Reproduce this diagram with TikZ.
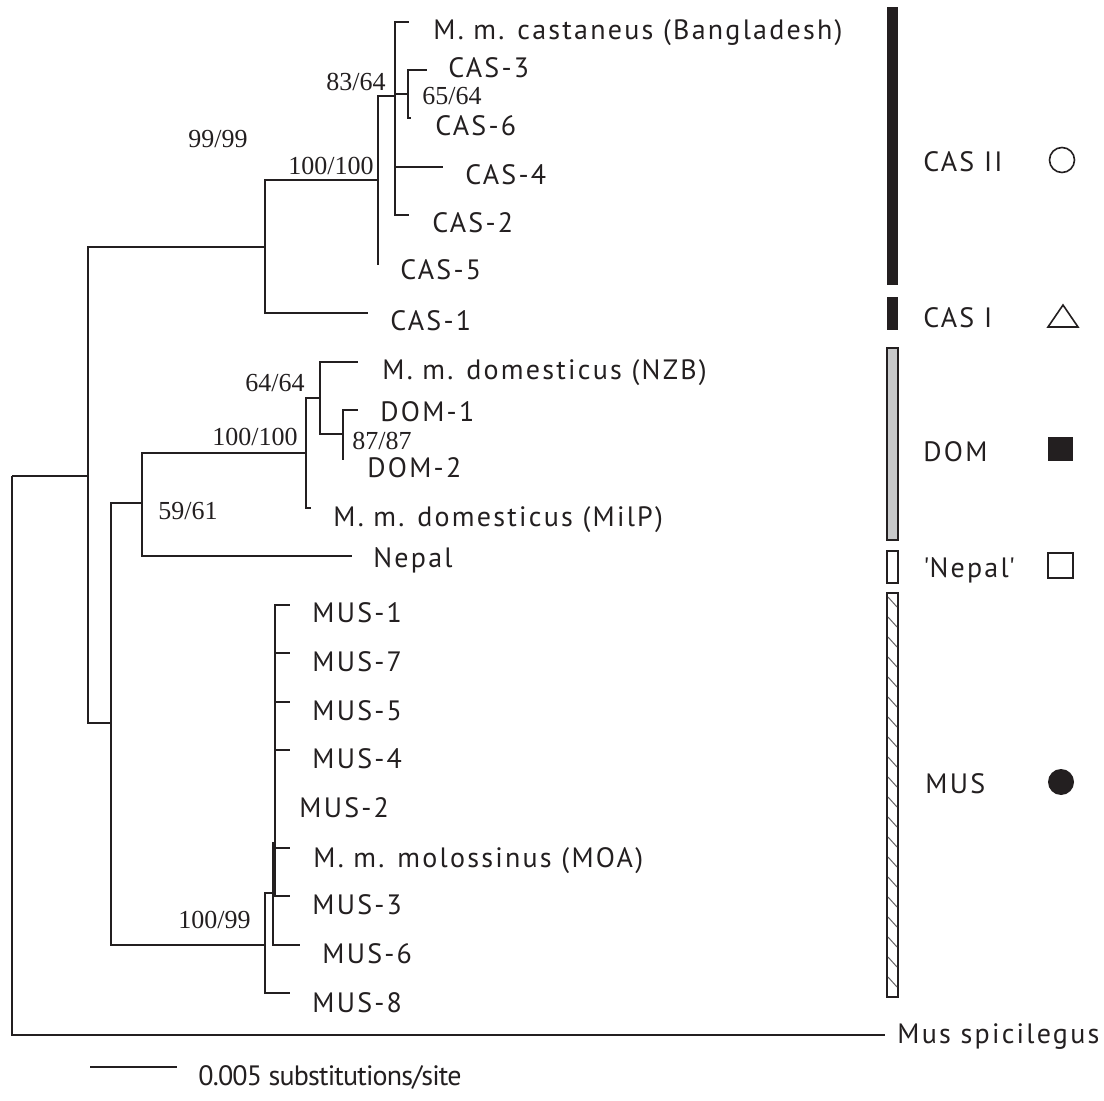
\documentclass[tikz,border=0pt]{standalone}
\usepackage{fontspec}
\setmainfont{PT Sans}[LetterSpace=8.0]
\newfontfamily\bootfont{Liberation Serif}
\newfontfamily\scalefont{PT Sans}[LetterSpace=-3.0]
\definecolor{ink}{HTML}{231F20}
\definecolor{domgray}{HTML}{C8C9CA}
\tikzset{
  branch/.style={ink, line width=1.4pt},
  taxon/.style={anchor=base west, inner sep=0pt, text=ink, font=\fontsize{14}{16}\selectfont},
  boot/.style={anchor=base west, inner sep=0pt, text=ink, font=\bootfont\fontsize{13}{15}\selectfont},
  groupbar/.style={draw=ink, line width=0.7pt},
  marker/.style={draw=ink, line width=0.8pt},
}
\begin{document}
\begin{tikzpicture}[x=0.5pt, y=-0.5pt]
    \useasboundingbox (0,0) rectangle (1104,1101);

    % 内部节点 (父枝到达处)
    \coordinate (root) at (12,476);
    \coordinate (nA) at (88,476);
    \coordinate (n99) at (265,247);
    \coordinate (n100c) at (378,180);
    \coordinate (n83) at (395,96);
    \coordinate (n65) at (408,94);
    \coordinate (nB) at (111,723);
    \coordinate (n59) at (142,503);
    \coordinate (n100d) at (306,453);
    \coordinate (n64) at (320,398);
    \coordinate (n87) at (343,434);
    \coordinate (n100m) at (265,945);
    \coordinate (nM6) at (273,893);
    \coordinate (poly) at (275,843);

    % 末端
    \coordinate (t-cast) at (409,22);
    \coordinate (t-cas3) at (427,70);
    \coordinate (t-cas6) at (411,118);
    \coordinate (t-cas4) at (443,167);
    \coordinate (t-cas2) at (409,215);
    \coordinate (t-cas5) at (378,265);
    \coordinate (t-cas1) at (368,313);
    \coordinate (t-nzb) at (358,362);
    \coordinate (t-dom1) at (358,410);
    \coordinate (t-dom2) at (343,460);
    \coordinate (t-milp) at (311,508);
    \coordinate (t-nepal) at (352,556);
    \coordinate (t-mus1) at (290,605);
    \coordinate (t-mus7) at (290,653);
    \coordinate (t-mus5) at (290,702);
    \coordinate (t-mus4) at (290,750);
    \coordinate (t-mus2) at (275,800);
    \coordinate (t-molo) at (290,848);
    \coordinate (t-mus3) at (290,896);
    \coordinate (t-mus6) at (300,945);
    \coordinate (t-mus8) at (290,993);
    \coordinate (t-spic) at (885,1035);

    % 枝
    \foreach \p/\c in {root/nA, root/t-spic, nA/n99, nA/nB,
                       n99/n100c, n99/t-cas1, n100c/n83, n100c/t-cas5,
                       n83/t-cast, n83/n65, n83/t-cas4, n83/t-cas2,
                       n65/t-cas3, n65/t-cas6,
                       nB/n59, nB/n100m, n59/n100d, n59/t-nepal,
                       n100d/n64, n100d/t-milp, n64/t-nzb, n64/n87,
                       n87/t-dom1, n87/t-dom2,
                       n100m/nM6, n100m/t-mus8, nM6/poly, nM6/t-mus6,
                       poly/t-mus1, poly/t-mus7, poly/t-mus5, poly/t-mus4,
                       poly/t-mus2, poly/t-molo, poly/t-mus3}
        \draw[branch] (\p) |- (\c);

    % 分类单元
    \node[taxon] (l-cast) at (433,40) {M. m. castaneus (Bangladesh)};
    \node[taxon] (l-cas3) at (448,78) {CAS-3};
    \node[taxon] (l-cas6) at (435,136) {CAS-6};
    \node[taxon] (l-cas4) at (465,185) {CAS-4};
    \node[taxon] (l-cas2) at (432,233) {CAS-2};
    \node[taxon] (l-cas5) at (400,280) {CAS-5};
    \node[taxon] (l-cas1) at (390,331) {CAS-1};
    \node[taxon] (l-nzb) at (382,380) {M. m. domesticus (NZB)};
    \node[taxon] (l-dom1) at (380,422) {DOM-1};
    \node[taxon] (l-dom2) at (367,478) {DOM-2};
    \node[taxon] (l-milp) at (333,527) {M. m. domesticus (MilP)};
    \node[taxon] (l-nepal) at (373,568) {Nepal};
    \node[taxon] (l-mus1) at (312,623) {MUS-1};
    \node[taxon] (l-mus7) at (312,672) {MUS-7};
    \node[taxon] (l-mus5) at (312,720) {MUS-5};
    \node[taxon] (l-mus4) at (312,768) {MUS-4};
    \node[taxon] (l-mus2) at (299,817) {MUS-2};
    \node[taxon] (l-molo) at (313,867) {M. m. molossinus (MOA)};
    \node[taxon] (l-mus3) at (312,914) {MUS-3};
    \node[taxon] (l-mus6) at (322,963) {MUS-6};
    \node[taxon] (l-mus8) at (312,1012) {MUS-8};
    \node[taxon] (l-spic) at (897,1043) {Mus spicilegus};

    % 支持率
    \node[boot] (b99) at (188,148) {99/99};
    \node[boot] (b100c) at (288,175) {100/100};
    \node[boot] (b83) at (326,91) {83/64};
    \node[boot] (b65) at (422,105) {65/64};
    \node[boot] (b64) at (245,392) {64/64};
    \node[boot] (b100d) at (212,446) {100/100};
    \node[boot] (b87) at (352,450) {87/87};
    \node[boot] (b59) at (158,520) {59/61};
    \node[boot] (b100m) at (178,928) {100/99};

    % 比例尺
    \coordinate (sb-l) at (90,1067);
    \coordinate (sb-r) at (177,1067);
    \draw[branch] (sb-l) -- (sb-r);
    \node[taxon, font=\scalefont\fontsize{14}{16}\selectfont] (l-scale) at (198,1085) {0.005 substitutions/site};

    % 类群条
    \fill[ink] (887,7) rectangle (898,285);
    \fill[ink] (887,297) rectangle (898,330);
    \draw[groupbar, fill=domgray] (887,348) rectangle (898,540);
    \draw[groupbar, fill=white] (887,551) rectangle (898,583);
    \draw[groupbar, fill=white] (887,593) rectangle (898,997);
    \foreach \y in {597,617,...,977}
        \draw[ink!70, line width=0.5pt] (888,\y) -- (897,\y+10);

    % 类群名与符号
    \node[taxon] (g-cas2) at (923,172) {CAS II};
    \node[taxon] (g-cas1) at (923,328) {CAS I};
    \node[taxon] (g-dom) at (923,462) {DOM};
    \node[taxon] (g-nepal) at (923,578) {\textquotesingle Nepal\textquotesingle};
    \node[taxon] (g-mus) at (925,793) {MUS};
    \draw[marker] (1062,160) circle[radius=12.5];
    \draw[marker, line join=miter] (1048,327) -- (1078,327) -- (1063,305) -- cycle;
    \fill[ink] (1048,437) rectangle (1073,461);
    \draw[marker] (1048,553) rectangle (1073,578);
    \fill[ink] (1061,782) circle[radius=13];
\end{tikzpicture}
\end{document}
